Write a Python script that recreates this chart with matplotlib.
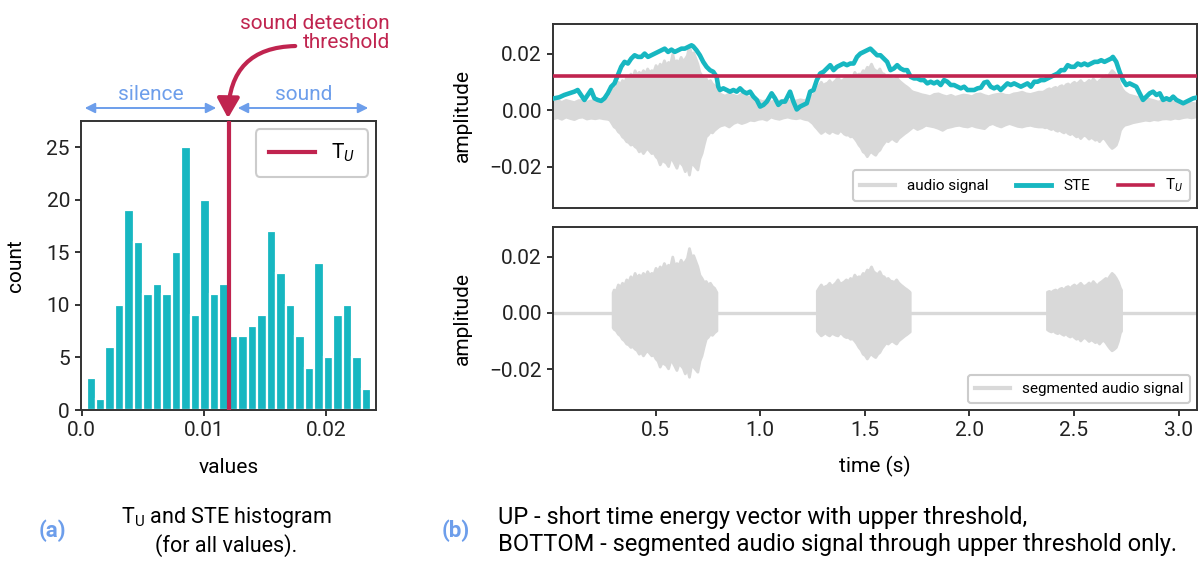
import numpy as np
import matplotlib
matplotlib.use("Agg")
import matplotlib.pyplot as plt
from matplotlib.lines import Line2D
from matplotlib.patches import FancyArrowPatch

# ---------------- data ----------------
hist_counts = [3, 1, 6, 10, 19, 16, 11, 12, 11, 15, 25, 9, 20, 11, 12,
               7, 7, 8, 9, 17, 13, 10, 7, 4, 14, 5, 9, 10, 5, 2]
hist_first_edge = 0.0004
hist_last_edge = 0.02365
threshold_TU = 0.012

ste_t = [0.016, 0.040, 0.064, 0.088, 0.112, 0.128, 0.144, 0.160, 0.176, 0.192, 0.208, 0.224, 0.240,
         0.256, 0.272, 0.288, 0.304, 0.320, 0.336, 0.352, 0.368, 0.384, 0.400, 0.416, 0.432, 0.448,
         0.464, 0.480, 0.496, 0.512, 0.528, 0.544, 0.560, 0.576, 0.592, 0.608, 0.624, 0.640, 0.656,
         0.672, 0.680, 0.696, 0.712, 0.728, 0.744, 0.760, 0.776, 0.792, 0.800, 0.808, 0.824, 0.840,
         0.856, 0.872, 0.888, 0.904, 0.920, 0.936, 0.952, 0.968, 0.984, 1.000, 1.016, 1.032, 1.055,
         1.071, 1.087, 1.103, 1.119, 1.135, 1.143, 1.159, 1.175, 1.191, 1.207, 1.223, 1.239, 1.255,
         1.271, 1.287, 1.303, 1.319, 1.335, 1.351, 1.367, 1.383, 1.399, 1.415, 1.431, 1.447, 1.463,
         1.479, 1.495, 1.511, 1.527, 1.543, 1.559, 1.575, 1.591, 1.607, 1.623, 1.639, 1.655, 1.671,
         1.687, 1.703, 1.719, 1.735, 1.751, 1.767, 1.783, 1.799, 1.815, 1.831, 1.847, 1.863, 1.879,
         1.895, 1.911, 1.927, 1.943, 1.959, 1.975, 1.991, 2.007, 2.023, 2.039, 2.055, 2.071, 2.086,
         2.102, 2.118, 2.134, 2.150, 2.166, 2.182, 2.198, 2.214, 2.230, 2.246, 2.262, 2.278, 2.294,
         2.310, 2.326, 2.342, 2.358, 2.374, 2.390, 2.406, 2.422, 2.438, 2.454, 2.470, 2.486, 2.502,
         2.518, 2.534, 2.550, 2.566, 2.582, 2.598, 2.614, 2.630, 2.646, 2.662, 2.678, 2.686, 2.702,
         2.718, 2.734, 2.750, 2.766, 2.782, 2.798, 2.814, 2.830, 2.846, 2.862, 2.878, 2.894, 2.910,
         2.926, 2.942, 2.958, 2.974, 2.990, 3.006, 3.022, 3.038, 3.054, 3.070, 3.086]
ste_v = [0.00425, 0.00461, 0.00543, 0.00601, 0.0066, 0.00718, 0.00543, 0.00367, 0.00543, 0.00718,
         0.00425, 0.00367, 0.00332, 0.00425, 0.00601, 0.00835, 0.00952, 0.01244, 0.01537, 0.01713,
         0.01654, 0.0183, 0.01946, 0.01888, 0.01888, 0.02005, 0.01888, 0.01946, 0.02005, 0.02064,
         0.02122, 0.0218, 0.02064, 0.02145, 0.02064, 0.02122, 0.0218, 0.0218, 0.02239, 0.02298,
         0.02262, 0.02122, 0.01946, 0.01713, 0.01537, 0.0142, 0.01362, 0.01186, 0.00835, 0.00718,
         0.00777, 0.00718, 0.0066, 0.00718, 0.0066, 0.00777, 0.0066, 0.00601, 0.0066, 0.00484,
         0.00367, 0.00133, 0.00192, 0.00308, 0.00601, 0.00425, 0.00192, 0.00308, 0.00308, 0.00543,
         0.0066, 0.00308, 0.00030, 0.00133, 0.00192, 0.0025, 0.0066, 0.00718, 0.01069, 0.01303,
         0.01362, 0.01479, 0.01596, 0.0142, 0.01537, 0.01596, 0.01654, 0.01596, 0.01654, 0.01654,
         0.01888, 0.02005, 0.02064, 0.02122, 0.0218, 0.02064, 0.01946, 0.01946, 0.0183, 0.01713,
         0.0142, 0.01479, 0.01596, 0.01479, 0.0142, 0.0142, 0.01186, 0.01128, 0.01128, 0.01069,
         0.01069, 0.00952, 0.0101, 0.00952, 0.0101, 0.00894, 0.01069, 0.0101, 0.00894, 0.00894,
         0.00835, 0.00777, 0.00835, 0.00718, 0.00718, 0.00718, 0.00777, 0.0080, 0.0098, 0.0101,
         0.00835, 0.00777, 0.00835, 0.00718, 0.00835, 0.00952, 0.00894, 0.00952, 0.00894, 0.00835,
         0.00894, 0.00952, 0.00835, 0.0101, 0.0101, 0.01069, 0.01069, 0.01128, 0.01186, 0.01244,
         0.01303, 0.0142, 0.0142, 0.01596, 0.01537, 0.01537, 0.01654, 0.01596, 0.01654, 0.01596,
         0.01654, 0.01713, 0.01713, 0.01771, 0.01713, 0.01771, 0.0183, 0.01888, 0.01713, 0.01362,
         0.01069, 0.00894, 0.00952, 0.00894, 0.00835, 0.00601, 0.00367, 0.00484, 0.00601, 0.0066,
         0.00543, 0.00601, 0.00367, 0.00425, 0.00367, 0.00484, 0.00367, 0.00308, 0.0025, 0.00308,
         0.00367, 0.00425, 0.00449]

# audio waveform envelope (upper / lower peaks)
audio_t = [
    0.01, 0.03, 0.05, 0.07, 0.09, 0.11, 0.13, 0.15, 0.17, 0.19, 0.21, 0.23, 0.25, 0.27,
    0.28, 0.29, 0.30, 0.31, 0.32, 0.33, 0.34, 0.35, 0.36, 0.37, 0.38, 0.39, 0.40, 0.41, 0.42,
    0.43, 0.44, 0.45, 0.46, 0.47, 0.48, 0.49, 0.50, 0.51, 0.52, 0.53, 0.54, 0.55, 0.56, 0.57,
    0.58, 0.59, 0.60, 0.61, 0.62, 0.63, 0.64, 0.65, 0.66, 0.67, 0.68, 0.69, 0.70, 0.71, 0.72,
    0.73, 0.74, 0.75, 0.76, 0.77, 0.78, 0.79, 0.80,
    0.81, 0.83, 0.85, 0.87, 0.89, 0.91, 0.93, 0.95, 0.97, 0.99, 1.01, 1.03, 1.05, 1.07, 1.09,
    1.11, 1.13, 1.15, 1.17, 1.19, 1.21, 1.23, 1.24,
    1.25, 1.26, 1.27, 1.28, 1.29, 1.30, 1.31, 1.32, 1.33, 1.34, 1.35, 1.36, 1.37, 1.38, 1.39,
    1.40, 1.41, 1.42, 1.43, 1.44, 1.45, 1.46, 1.47, 1.48, 1.49, 1.50, 1.51, 1.52, 1.53, 1.54,
    1.55, 1.56, 1.57, 1.58, 1.59, 1.60, 1.61, 1.62, 1.63, 1.64, 1.65, 1.66, 1.67, 1.68, 1.69,
    1.70, 1.71, 1.72, 1.73,
    1.75, 1.77, 1.79, 1.81, 1.83, 1.85, 1.87, 1.89, 1.91, 1.93, 1.95, 1.97, 1.99, 2.01, 2.03,
    2.05, 2.07, 2.09, 2.11, 2.13, 2.15, 2.17, 2.19, 2.21, 2.23, 2.25, 2.27, 2.29, 2.31, 2.33,
    2.35, 2.36, 2.37, 2.38, 2.39, 2.40, 2.41, 2.42, 2.43, 2.44, 2.45, 2.46, 2.47, 2.48, 2.49,
    2.50, 2.51, 2.52, 2.53, 2.54, 2.55, 2.56, 2.57, 2.58, 2.59, 2.60, 2.61, 2.62, 2.63, 2.64,
    2.65, 2.66, 2.67, 2.68, 2.69, 2.70, 2.71, 2.72, 2.73, 2.74,
    2.76, 2.78, 2.80, 2.82, 2.84, 2.86, 2.88, 2.90, 2.92, 2.94, 2.96, 2.98, 3.00, 3.02, 3.04,
    3.06, 3.08, 3.09]
audio_upper = [
    0.0031, 0.0036, 0.0030, 0.0037, 0.0033, 0.0029, 0.0036, 0.0037, 0.0031, 0.0035, 0.0031,
    0.0038, 0.0037, 0.0042,
    0.0048, 0.0062, 0.0083, 0.0078, 0.0101, 0.0092, 0.0107, 0.0098, 0.0119, 0.0110, 0.0130,
    0.0118, 0.0142, 0.0125, 0.0136, 0.0128, 0.0142, 0.0130, 0.0148, 0.0135, 0.0142, 0.0138,
    0.0160, 0.0148, 0.0165, 0.0155, 0.0177, 0.0160, 0.0171, 0.0165, 0.0200, 0.0168, 0.0177,
    0.0170, 0.0189, 0.0175, 0.0183, 0.0195, 0.0230, 0.0200, 0.0205, 0.0185, 0.0165, 0.0135,
    0.0124, 0.0110, 0.0113, 0.0100, 0.0107, 0.0095, 0.0089, 0.0075, 0.0066,
    0.0058, 0.0052, 0.0060, 0.0055, 0.0050, 0.0060, 0.0053, 0.0046, 0.0043, 0.0038, 0.0033,
    0.0037, 0.0031, 0.0036, 0.0034, 0.0038, 0.0033, 0.0037, 0.0035, 0.0039, 0.0036, 0.0043,
    0.0048,
    0.0054, 0.0065, 0.0078, 0.0090, 0.0101, 0.0090, 0.0095, 0.0098, 0.0107, 0.0096, 0.0101,
    0.0108, 0.0119, 0.0105, 0.0107, 0.0112, 0.0119, 0.0112, 0.0124, 0.0118, 0.0136, 0.0125,
    0.0130, 0.0128, 0.0142, 0.0138, 0.0154, 0.0150, 0.0165, 0.0148, 0.0142, 0.0138, 0.0148,
    0.0132, 0.0130, 0.0120, 0.0124, 0.0115, 0.0113, 0.0110, 0.0119, 0.0108, 0.0101, 0.0095,
    0.0089, 0.0084, 0.0078, 0.0070, 0.0066,
    0.0062, 0.0057, 0.0054, 0.0050, 0.0058, 0.0060, 0.0054, 0.0050, 0.0055, 0.0048, 0.0052,
    0.0056, 0.0054, 0.0050, 0.0058, 0.0060, 0.0054, 0.0050, 0.0055, 0.0058, 0.0060, 0.0055,
    0.0054, 0.0060, 0.0062, 0.0066, 0.0060, 0.0058, 0.0062, 0.0066,
    0.0066, 0.0070, 0.0075, 0.0078, 0.0074, 0.0080, 0.0083, 0.0078, 0.0086, 0.0089, 0.0082,
    0.0092, 0.0095, 0.0088, 0.0096, 0.0101, 0.0094, 0.0100, 0.0107, 0.0098, 0.0096, 0.0101,
    0.0108, 0.0100, 0.0113, 0.0104, 0.0098, 0.0107, 0.0112, 0.0118, 0.0124, 0.0120, 0.0132,
    0.0142, 0.0135, 0.0124, 0.0110, 0.0089, 0.0075, 0.0066,
    0.0056, 0.0052, 0.0048, 0.0045, 0.0043, 0.0040, 0.0036, 0.0031, 0.0035, 0.0037, 0.0033,
    0.0030, 0.0025, 0.0029, 0.0031, 0.0027, 0.0025, 0.0025]
audio_lower = [
    -0.0028, -0.0024, -0.0030, -0.0022, -0.0027, -0.0031, -0.0024, -0.0022, -0.0029, -0.0026,
    -0.0028, -0.0025, -0.0028, -0.0030,
    -0.0033, -0.0045, -0.0057, -0.0062, -0.0074, -0.0080, -0.0092, -0.0098, -0.0109, -0.0112,
    -0.0121, -0.0118, -0.0127, -0.0132, -0.0145, -0.0138, -0.0151, -0.0140, -0.0133, -0.0142,
    -0.0151, -0.0148, -0.0162, -0.0170, -0.0191, -0.0175, -0.0180, -0.0185, -0.0197, -0.0170,
    -0.0174, -0.0188, -0.0203, -0.0180, -0.0186, -0.0195, -0.0215, -0.0195, -0.0227, -0.0185,
    -0.0191, -0.0200, -0.0209, -0.0170, -0.0151, -0.0120, -0.0092, -0.0085, -0.0074, -0.0078,
    -0.0069, -0.0063, -0.0057,
    -0.0053, -0.0049, -0.0057, -0.0045, -0.0039, -0.0045, -0.0040, -0.0033, -0.0035, -0.0030,
    -0.0028, -0.0033, -0.0022, -0.0027, -0.0030, -0.0025, -0.0022, -0.0026, -0.0028, -0.0025,
    -0.0030, -0.0033, -0.0039,
    -0.0045, -0.0055, -0.0063, -0.0072, -0.0080, -0.0075, -0.0069, -0.0076, -0.0080, -0.0072,
    -0.0074, -0.0078, -0.0080, -0.0070, -0.0074, -0.0082, -0.0086, -0.0085, -0.0092, -0.0090,
    -0.0098, -0.0108, -0.0121, -0.0130, -0.0145, -0.0150, -0.0162, -0.0150, -0.0145, -0.0152,
    -0.0157, -0.0145, -0.0139, -0.0125, -0.0115, -0.0105, -0.0109, -0.0102, -0.0098, -0.0104,
    -0.0109, -0.0098, -0.0092, -0.0086, -0.0080, -0.0075, -0.0069, -0.0063, -0.0057,
    -0.0066, -0.0060, -0.0051, -0.0054, -0.0057, -0.0062, -0.0069, -0.0060, -0.0057, -0.0053,
    -0.0051, -0.0055, -0.0057, -0.0052, -0.0057, -0.0060, -0.0063, -0.0050, -0.0045, -0.0052,
    -0.0057, -0.0050, -0.0045, -0.0050, -0.0055, -0.0057, -0.0053, -0.0051, -0.0055, -0.0057,
    -0.0057, -0.0060, -0.0058, -0.0063, -0.0066, -0.0062, -0.0069, -0.0072, -0.0068, -0.0074,
    -0.0078, -0.0072, -0.0080, -0.0084, -0.0079, -0.0086, -0.0092, -0.0088, -0.0098, -0.0090,
    -0.0086, -0.0092, -0.0100, -0.0094, -0.0098, -0.0104, -0.0100, -0.0109, -0.0100, -0.0096,
    -0.0104, -0.0115, -0.0125, -0.0133, -0.0128, -0.0121, -0.0100, -0.0069, -0.0058, -0.0051,
    -0.0047, -0.0042, -0.0039, -0.0036, -0.0033, -0.0035, -0.0031, -0.0033, -0.0029, -0.0028,
    -0.0030, -0.0026, -0.0028, -0.0024, -0.0022, -0.0025, -0.0022, -0.0022]

segment_starts = [0.295, 1.271, 2.371]
segment_ends = [0.791, 1.715, 2.725]

hist_xticks = [0.0, 0.01, 0.02]
hist_yticks = [0, 5, 10, 15, 20, 25]
amp_yticks = [-0.02, 0.0, 0.02]
time_xticks = [0.5, 1.0, 1.5, 2.0, 2.5, 3.0]

# ---------------- style ----------------
TEAL = "#17b7c1"
CRIMSON = "#c0244f"
GRAY = "#d9d9d9"
BLUE = "#6d9eeb"
SPINE = "#333333"

plt.rcParams["font.family"] = ["Roboto", "DejaVu Sans"]
plt.rcParams["mathtext.fontset"] = "custom"
plt.rcParams["mathtext.rm"] = "Roboto"
plt.rcParams["mathtext.it"] = "Roboto:italic"
plt.rcParams["axes.edgecolor"] = SPINE
plt.rcParams["axes.linewidth"] = 1.4
plt.rcParams["xtick.color"] = SPINE
plt.rcParams["ytick.color"] = SPINE
plt.rcParams["xtick.labelcolor"] = "#222222"
plt.rcParams["ytick.labelcolor"] = "#222222"
plt.rcParams["xtick.major.width"] = 1.4
plt.rcParams["ytick.major.width"] = 1.4
plt.rcParams["xtick.major.size"] = 4
plt.rcParams["ytick.major.size"] = 4

W, H = 1203, 561
fig = plt.figure(figsize=(W / 100, H / 100), dpi=100)


def fx(px):
    return px / W


def fy(py):
    return 1 - py / H


def box(x0, y0, x1, y1):
    return [fx(x0), fy(y1), fx(x1) - fx(x0), fy(y0) - fy(y1)]


FS = 15

# ---------------- (a) histogram ----------------
axh = fig.add_axes(box(81, 121, 376, 410))
edges = np.linspace(hist_first_edge, hist_last_edge, len(hist_counts) + 1)
bw = edges[1] - edges[0]
axh.bar(edges[:-1], hist_counts, width=bw, align="edge", color=TEAL,
        edgecolor="white", linewidth=1.6, zorder=2)
axh.axvline(threshold_TU, color=CRIMSON, lw=3, zorder=3, label="T$_U$")
axh.set_xlim(-0.00005, 0.02405)
axh.set_ylim(0, 27.5)
axh.set_xticks(hist_xticks)
axh.set_xticklabels(["0.0", "0.01", "0.02"])
axh.set_yticks(hist_yticks)
axh.tick_params(labelsize=FS, pad=4)
axh.set_xlabel("values", fontsize=FS)
axh.set_ylabel("count", fontsize=FS)
axh.xaxis.set_label_coords(0.5, -0.165)
axh.yaxis.set_label_coords(-0.19, 0.5)
leg = axh.legend(loc="upper right", fontsize=FS, handlelength=2.2, borderpad=0.6,
                 fancybox=True, framealpha=1, borderaxespad=0.4)
leg.get_frame().set_edgecolor("#cccccc")
leg.get_frame().set_linewidth(1.5)

# annotations above histogram
fig.text(fx(390), fy(33), "sound detection\nthreshold", ha="right", va="center",
         color=CRIMSON, fontsize=FS, linespacing=0.95, multialignment="right")
fig.patches.append(FancyArrowPatch(
    (fx(298), fy(46)), (fx(228), fy(121)), transform=fig.transFigure,
    connectionstyle="angle3,angleA=0,angleB=90", arrowstyle="-|>,head_length=0.75,head_width=0.42",
    mutation_scale=16, color=CRIMSON, lw=3))
fig.patches.append(FancyArrowPatch(
    (fx(82), fy(108)), (fx(219), fy(108)), transform=fig.transFigure,
    arrowstyle="<|-|>,head_length=0.5,head_width=0.25", mutation_scale=12, color=BLUE, lw=1.4))
fig.patches.append(FancyArrowPatch(
    (fx(235), fy(108)), (fx(371), fy(108)), transform=fig.transFigure,
    arrowstyle="<|-|>,head_length=0.5,head_width=0.25", mutation_scale=12, color=BLUE, lw=1.4))
fig.text(fx(151), fy(95), "silence", ha="center", va="center", color=BLUE, fontsize=FS)
fig.text(fx(304), fy(95), "sound", ha="center", va="center", color=BLUE, fontsize=FS)

# ---------------- (b) top: STE ----------------
axt = fig.add_axes(box(553, 24, 1197, 208))
axb = fig.add_axes(box(553, 227, 1197, 410), sharex=axt, sharey=axt)

at = np.array(audio_t)
au = np.array(audio_upper)
al = np.array(audio_lower)
axt.fill_between(at, al, au, color=GRAY, lw=2.0, edgecolor=GRAY, zorder=1)
axt.plot(ste_t, ste_v, color=TEAL, lw=3.3, zorder=3, solid_joinstyle="round")
axt.axhline(threshold_TU, color=CRIMSON, lw=2.6, zorder=4)

# ---------------- (b) bottom: segmented ----------------
axb.plot([0.0, 3.2], [0, 0], color=GRAY, lw=2.4, zorder=1)
for s, e in zip(segment_starts, segment_ends):
    inside = (at > s) & (at < e)
    ts = np.concatenate([[s], at[inside], [e]])
    us = np.concatenate([[np.interp(s, at, au)], au[inside], [np.interp(e, at, au)]])
    ls = np.concatenate([[np.interp(s, at, al)], al[inside], [np.interp(e, at, al)]])
    axb.fill_between(ts, ls, us, color=GRAY, lw=2.0, edgecolor=GRAY, zorder=2)

axt.set_xlim(0.01, 3.088)
axt.set_ylim(-0.0345, 0.0305)
axt.set_yticks(amp_yticks)
axt.set_yticklabels(["\u22120.02", "0.00", "0.02"])
axb.set_xticks(time_xticks)
axt.tick_params(axis="x", bottom=False, labelbottom=False)
for a in (axt, axb):
    a.tick_params(labelsize=FS, pad=4)
    a.set_ylabel("amplitude", fontsize=FS)
    a.yaxis.set_label_coords(-0.126, 0.5)
axb.set_xlabel("time (s)", fontsize=FS)
axb.xaxis.set_label_coords(0.5, -0.25)

h_audio = Line2D([], [], color=GRAY, lw=3)
h_ste = Line2D([], [], color=TEAL, lw=3.5)
h_tu = Line2D([], [], color=CRIMSON, lw=2.6)
lt = axt.legend([h_audio, h_ste, h_tu], ["audio signal", "STE", "T$_U$"], loc="lower right",
                ncol=3, fontsize=11, handlelength=2.3, columnspacing=1.8, borderpad=0.45,
                framealpha=1, borderaxespad=0.45)
lt.get_frame().set_edgecolor("#cccccc")
lt.get_frame().set_linewidth(1.5)
lb = axb.legend([Line2D([], [], color=GRAY, lw=3)], ["segmented audio signal"], loc="lower right",
                fontsize=11, handlelength=2.3, borderpad=0.45, framealpha=1, borderaxespad=0.45)
lb.get_frame().set_edgecolor("#cccccc")
lb.get_frame().set_linewidth(1.5)

# ---------------- captions ----------------
fig.text(fx(52), fy(531), "(a)", ha="center", va="center", color=BLUE, fontsize=FS + 1,
         fontweight="bold")
fig.text(fx(226), fy(531), "T$_\\mathrm{U}$ and STE histogram\n(for all values).", ha="center",
         va="center", fontsize=15.5, linespacing=1.2, multialignment="center")
fig.text(fx(456), fy(531), "(b)", ha="center", va="center", color=BLUE, fontsize=FS + 1,
         fontweight="bold")
fig.text(fx(498), fy(531),
         "UP - short time energy vector with upper threshold,\n"
         "BOTTOM - segmented audio signal through upper threshold only.",
         ha="left", va="center", fontsize=17, linespacing=1.17)

fig.savefig("out.png", dpi=100)
